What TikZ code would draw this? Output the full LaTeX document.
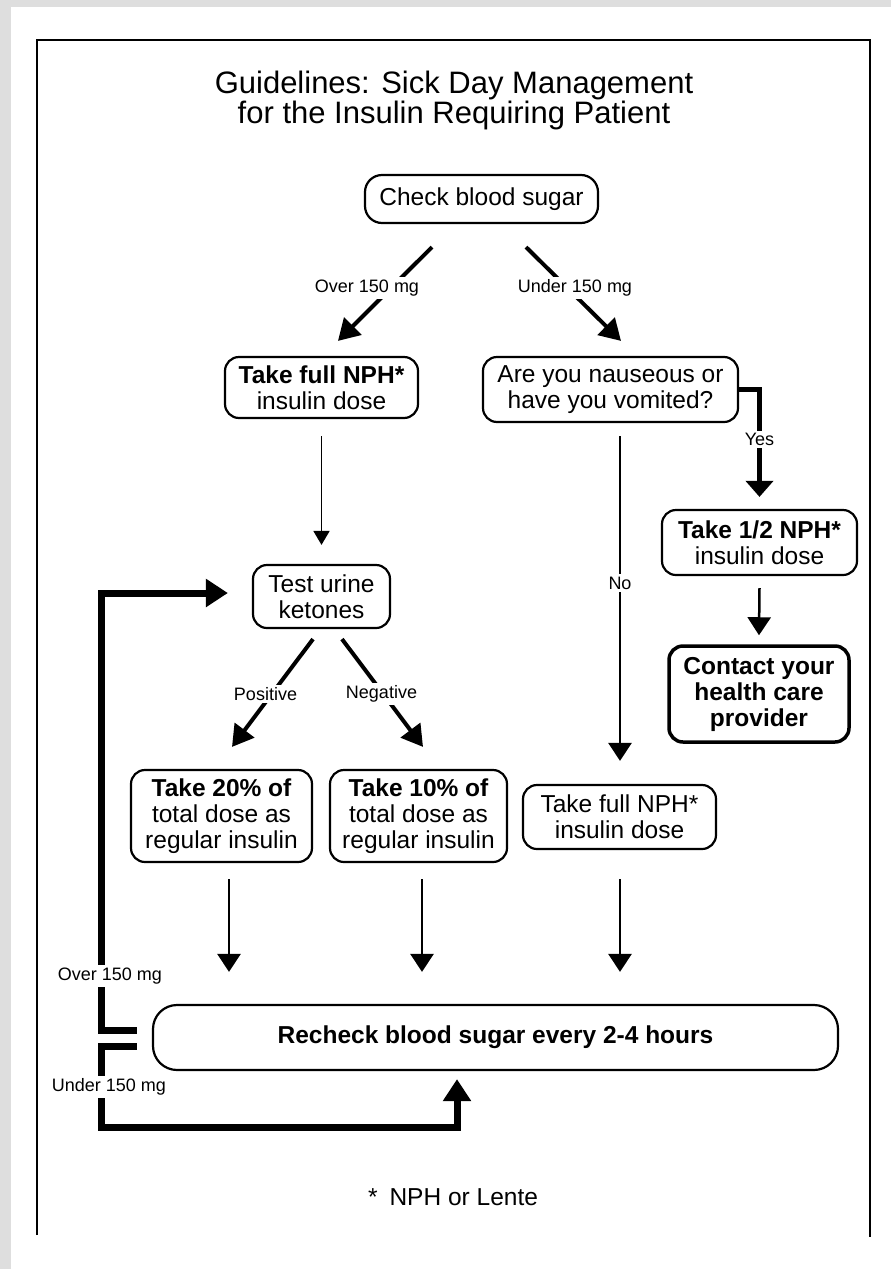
\documentclass[tikz,border=0pt]{standalone}
\usepackage{fontspec}
\setmainfont{Liberation Sans}
\usetikzlibrary{arrows.meta,calc}
\definecolor{paper}{RGB}{222,222,222}
\newcommand{\fsz}[2]{\fontsize{#1}{#2}\selectfont}

\tikzset{
  flowbox/.style={draw, line width=2.2pt, rounded corners=14pt, align=center,
    inner sep=0pt, font={\fsz{24.5}{26}}},
  lbl/.style={font={\fsz{18}{19}}, fill=white, inner sep=2.5pt},
  diagarr/.style={line width=4pt, -{Triangle[width=24pt,length=21pt]}},
  thinarr/.style={line width=2.5pt, -{Triangle[width=23pt,length=18pt]}},
  smallarr/.style={line width=1.8pt, -{Triangle[width=16pt,length=14pt]}},
  yesarr/.style={line width=5pt, -{Triangle[width=27pt,length=16pt]}},
  looparr/.style={line width=7pt, -{Triangle[width=27pt,length=22pt]}},
}

\begin{document}
\begin{tikzpicture}[x=1pt,y=-1pt,line join=miter]
\useasboundingbox (0,0) rectangle (891,1269);
% paper and page
\fill[paper] (0,0) rectangle (891,1269);
\fill[white] (11,7) rectangle (891,1269);
% page frame (open at the bottom)
\draw[line width=2.4pt] (37,1235) -- (37,40) -- (870,40) -- (870,1237);

% title
\node[font={\fsz{31}{30}}, align=center] (title) at (454,100)
  {Guidelines: Sick Day Management\\for the Insulin Requiring Patient};

% boxes
\node[flowbox, rounded corners=17pt, minimum width=233pt, minimum height=48pt]
  (check) at (481.5,199) {Check blood sugar};
\node[flowbox, minimum width=193pt, minimum height=61pt]
  (nphL) at (321.5,387.5) {{\bfseries Take full NPH*}\\insulin dose};
\node[flowbox, minimum width=255pt, minimum height=65pt]
  (naus) at (610.5,389.5) {Are you nauseous or\\have you vomited?};
\node[flowbox, minimum width=195pt, minimum height=65pt]
  (half) at (759.5,542.5) {{\bfseries Take 1/2 NPH*}\\insulin dose};
\node[flowbox, line width=3.5pt, minimum width=180pt, minimum height=96pt, font={\fsz{24.5}{26}\bfseries}]
  (contact) at (759,694) {Contact your\\health care\\provider};
\node[flowbox, minimum width=137pt, minimum height=63pt]
  (test) at (321.5,596.5) {Test urine\\ketones};
\node[flowbox, minimum width=181pt, minimum height=92pt]
  (p20) at (221.5,816) {{\bfseries Take 20\% of}\\total dose as\\regular insulin};
\node[flowbox, minimum width=177pt, minimum height=92pt]
  (p10) at (418.5,816) {{\bfseries Take 10\% of}\\total dose as\\regular insulin};
\node[flowbox, minimum width=193pt, minimum height=64pt]
  (nphR) at (619.5,817) {Take full NPH*\\insulin dose};
\node[flowbox, rounded corners=24pt, minimum width=685pt, minimum height=65pt,
  font={\fsz{24.5}{26}\bfseries}]
  (recheck) at (495.5,1037.5) {Recheck blood sugar every 2-4 hours};

% footnote
\node[font={\fsz{24.5}{26}}] (note) at (453,1197) {*\hspace{12pt}NPH or Lente};

% first split
\draw[diagarr] ($(check.south)+(-49.5,23)$) --
  node[lbl, xshift=-18pt, yshift=6pt] {Over 150 mg} ($(nphL.north)+(16.5,-15)$);
\draw[diagarr] ($(check.south)+(44.5,23)$) --
  node[lbl, xshift=1.5pt, yshift=6pt] {Under 150 mg} ($(naus.north)+(10.5,-15)$);

% left branch
\draw[smallarr] ($(nphL.south)+(0,17)$) -- ($(test.north)+(0,-19)$);
\draw[diagarr] ($(test.south)+(-8.5,10)$) --
  node[lbl, xshift=-7pt, yshift=-1pt] {Positive} ($(p20.north)+(10.5,-22)$);
\draw[diagarr] ($(test.south)+(20.5,10)$) --
  node[lbl, xshift=-1pt, yshift=-1pt] {Negative} ($(p10.north)+(4.5,-22)$);

% right branch
\draw[thinarr] ($(naus.south)+(9.5,13)$) --
  node[lbl, pos=0.453] {No} ($(nphR.north)+(0.5,-23)$);
\draw[yesarr] (naus.east) -| node[lbl, pos=0.733] {Yes} ($(half.north)+(0,-12)$);
\draw[thinarr] ($(half.south)+(0,12)$) -- ($(contact.north)+(0,-9)$);

% into the recheck box
\coordinate (o20) at ($(p20.south)+(7.5,16)$);
\coordinate (o10) at ($(p10.south)+(3.5,16)$);
\coordinate (oR) at ($(nphR.south)+(0.5,29)$);
\draw[thinarr, shorten >=32pt] (o20) -- (o20 |- recheck.north);
\draw[thinarr, shorten >=32pt] (o10) -- (o10 |- recheck.north);
\draw[thinarr, shorten >=32pt] (oR) -- (oR |- recheck.north);

% feedback loops
\draw[looparr] ($(recheck.west)+(-15,-7.5)$) -- ++(-35,0) |- ($(test.west)+(-24,-3.5)$);
\draw[looparr] ($(recheck.west)+(-15,8.5)$) -- ++(-35,0) -- ++(0,81)
  -| ($(recheck.south)+(-38.5,8)$);
\node[lbl] (overlbl) at (110,976) {Over 150 mg};
\node[lbl] (underlbl) at (109,1087) {Under 150 mg};
\end{tikzpicture}
\end{document}
